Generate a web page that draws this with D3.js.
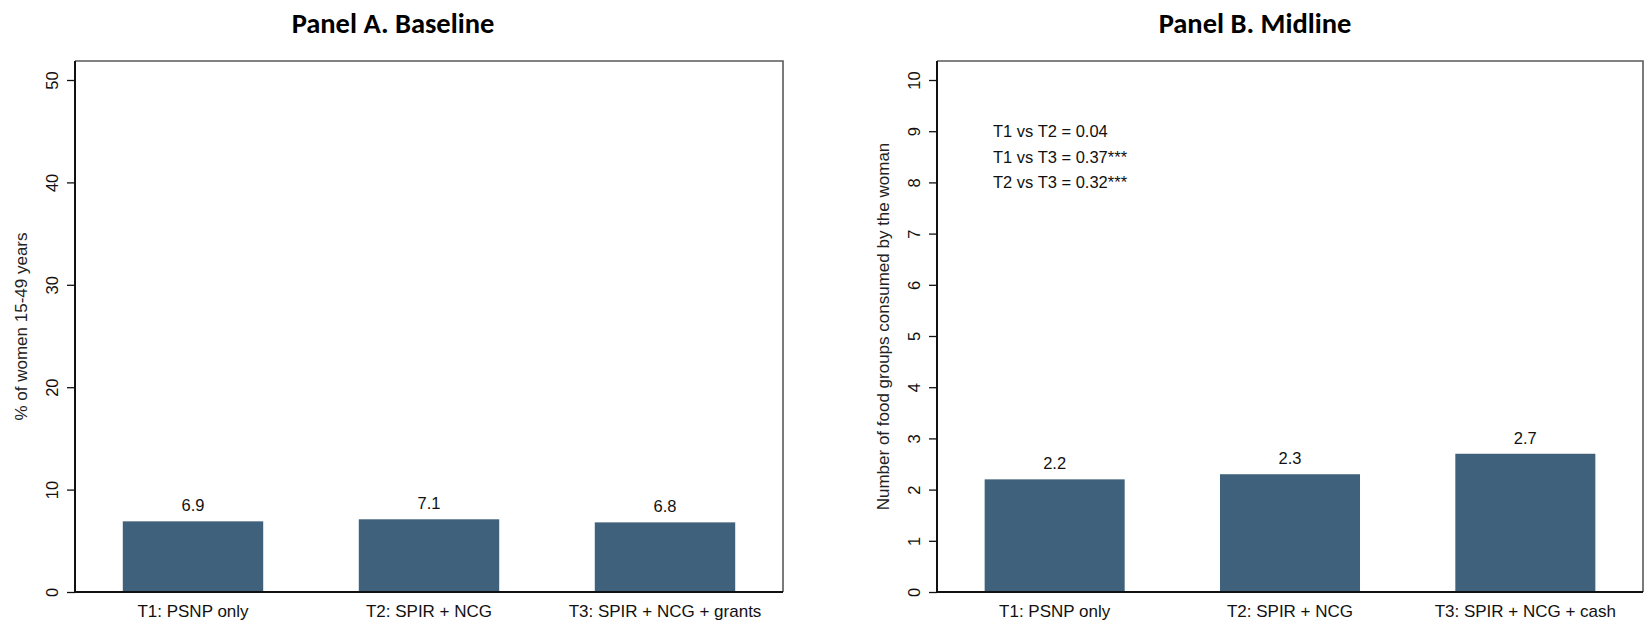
<!DOCTYPE html>
<html>
<head>
<meta charset="utf-8">
<script src="https://cdn.jsdelivr.net/npm/d3@7"></script>
<style>
  html, body { margin: 0; padding: 0; background: #fff; }
  svg { display: block; }
</style>
</head>
<body>
<svg id="chart" width="1645" height="625"></svg>
<script>
// ---- data ----
const titleA = "Panel A. Baseline";
const titleB = "Panel B. Midline";
const categoriesA = ["T1: PSNP only", "T2: SPIR + NCG", "T3: SPIR + NCG + grants"];
const categoriesB = ["T1: PSNP only", "T2: SPIR + NCG", "T3: SPIR + NCG + cash"];
const valuesA = [6.9, 7.1, 6.8];
const valuesB = [2.2, 2.3, 2.7];
const yTicksA = [0, 10, 20, 30, 40, 50];
const yTicksB = [0, 1, 2, 3, 4, 5, 6, 7, 8, 9, 10];
const yTitleA = "% of women 15-49 years";
const yTitleB = "Number of food groups consumed by the woman";
const notesB = ["T1 vs T2 = 0.04", "T1 vs T3 = 0.37***", "T2 vs T3 = 0.32***"];
const notesBy = [9, 8.5, 8];   // vertical placement of the comparison notes, in axis units

// ---- styling ----
const barColor = "#3f617b";
const textFont = "'Liberation Sans', Arial, sans-serif";
const titleFont = "Carlito, Lato, 'Open Sans', sans-serif";

const svg = d3.select("#chart");

function drawPanel(cfg) {
  const g = svg.append("g");
  const plotTop = 61, plotBottom = 592;

  const x = d3.scaleBand()
    .domain(cfg.categories)
    .range([cfg.left, cfg.right])
    .paddingInner(0.405)
    .paddingOuter(0.2025);

  const y = d3.scaleLinear()
    .domain([0, cfg.yTicks[cfg.yTicks.length - 1]])
    .range([plotBottom, 80]);

  // panel title
  g.append("text")
    .attr("x", cfg.titleX)
    .attr("y", 33)
    .attr("text-anchor", "middle")
    .attr("font-family", titleFont)
    .attr("font-weight", "bold")
    .attr("font-size", 28.5)
    .attr("fill", "#000")
    .text(cfg.title);

  // outer frame: top and right edges
  g.append("path")
    .attr("d", `M${cfg.left},${plotTop}H${cfg.right}V${plotBottom}`)
    .attr("fill", "none")
    .attr("stroke", "#5a5a5a")
    .attr("stroke-width", 1.6);

  // bars
  g.selectAll("rect.bar")
    .data(cfg.values)
    .join("rect")
    .attr("class", "bar")
    .attr("x", (d, i) => x(cfg.categories[i]))
    .attr("width", x.bandwidth())
    .attr("y", d => y(d))
    .attr("height", d => y(0) - y(d))
    .attr("fill", barColor);

  // value labels
  g.selectAll("text.val")
    .data(cfg.values)
    .join("text")
    .attr("class", "val")
    .attr("x", (d, i) => x(cfg.categories[i]) + x.bandwidth() / 2)
    .attr("y", d => y(d) - 10)
    .attr("text-anchor", "middle")
    .attr("font-family", textFont)
    .attr("font-size", 16.5)
    .attr("fill", "#111")
    .text(d => d.toFixed(1));

  // y axis with vertical tick labels
  const yAxis = g.append("g")
    .attr("transform", `translate(${cfg.left},0)`)
    .call(d3.axisLeft(y).tickValues(cfg.yTicks).tickSize(8).tickSizeOuter(0).tickFormat(d3.format("d")));
  yAxis.select(".domain").remove();
  yAxis.selectAll(".tick line").attr("stroke", "#111").attr("stroke-width", 1.3);
  yAxis.selectAll(".tick text")
    .attr("x", null).attr("dy", null)
    .attr("transform", "translate(-17,0) rotate(-90)")
    .attr("text-anchor", "middle")
    .attr("font-family", textFont)
    .attr("font-size", 16.5)
    .attr("fill", "#111");

  // x axis
  const xAxis = g.append("g")
    .attr("transform", `translate(0,${plotBottom})`)
    .call(d3.axisBottom(x).tickSize(0).tickPadding(0));
  xAxis.select(".domain").remove();
  xAxis.selectAll(".tick text")
    .attr("dy", null)
    .attr("y", 25)
    .attr("font-family", textFont)
    .attr("font-size", 17)
    .attr("fill", "#111");

  // axis lines (left and bottom)
  g.append("path")
    .attr("d", `M${cfg.left},${plotTop}V${plotBottom}H${cfg.right}`)
    .attr("fill", "none")
    .attr("stroke", "#111")
    .attr("stroke-width", 2);

  // y axis title
  g.append("text")
    .attr("transform", `translate(${cfg.left - 48.5},${(plotTop + plotBottom) / 2}) rotate(-90)`)
    .attr("text-anchor", "middle")
    .attr("font-family", textFont)
    .attr("font-size", 17)
    .attr("fill", "#222")
    .text(cfg.yTitle);

  // comparison notes
  if (cfg.notes) {
    g.selectAll("text.note")
      .data(cfg.notes)
      .join("text")
      .attr("class", "note")
      .attr("x", cfg.left + 56)
      .attr("y", (d, i) => y(cfg.notesY[i]))
      .attr("dy", "0.35em")
      .attr("font-family", textFont)
      .attr("font-size", 16.5)
      .attr("fill", "#111")
      .text(d => d);
  }
}

drawPanel({
  title: titleA, titleX: 393,
  categories: categoriesA, values: valuesA, yTicks: yTicksA,
  yTitle: yTitleA, left: 75, right: 783
});

drawPanel({
  title: titleB, titleX: 1255,
  categories: categoriesB, values: valuesB, yTicks: yTicksB,
  yTitle: yTitleB, left: 937, right: 1643,
  notes: notesB, notesY: notesBy
});
</script>
</body>
</html>
